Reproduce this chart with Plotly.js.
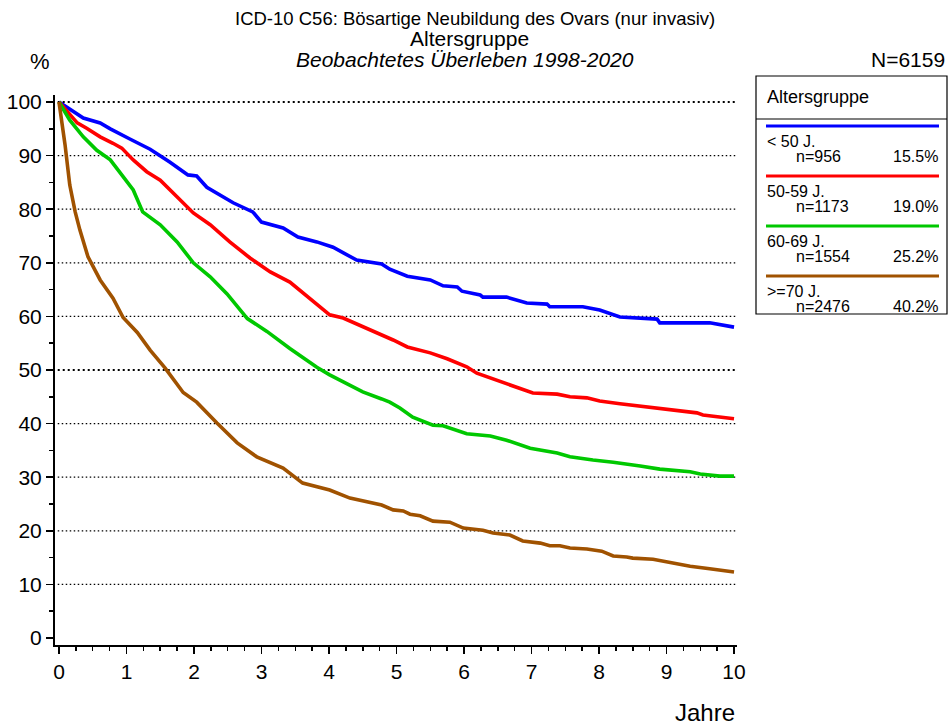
<!DOCTYPE html>
<html>
<head>
<meta charset="utf-8">
<script src="https://cdn.plot.ly/plotly-3.0.1.min.js"></script>
<style>html,body{margin:0;padding:0;background:#fff;}#chart{width:951px;height:726px;}</style>
</head>
<body>
<div id="chart"></div>
<script>
// ---- data ----
const groups = ["< 50 J.", "50-59 J.", "60-69 J.", ">=70 J."];
const groupN = ["n=956", "n=1173", "n=1554", "n=2476"];
const groupPct = ["15.5%", "19.0%", "25.2%", "40.2%"];
const colors = ["rgb(0,0,255)", "rgb(255,0,0)", "rgb(0,200,0)", "rgb(160,82,0)"];

const tBlue = [0, 0.36, 0.61, 0.76, 1.05, 1.35, 1.64, 1.91, 2.04, 2.19, 2.58, 2.87, 3.0, 3.32, 3.54, 3.82, 4.06, 4.41, 4.78, 4.9, 5.16, 5.5, 5.69, 5.9, 5.97, 6.24, 6.28, 6.63, 6.93, 7.23, 7.27, 7.76, 8.01, 8.31, 8.86, 8.9, 9.64, 10];
const sBlue = [100, 97.0, 96.1, 95.0, 93.1, 91.2, 88.8, 86.4, 86.2, 84.1, 81.2, 79.5, 77.6, 76.5, 74.8, 73.9, 72.9, 70.5, 69.8, 68.8, 67.5, 66.8, 65.7, 65.5, 64.7, 64.0, 63.6, 63.6, 62.5, 62.3, 61.8, 61.8, 61.2, 59.9, 59.5, 58.8, 58.8, 58.0];

const tRed = [0, 0.27, 0.41, 0.61, 0.8, 0.93, 1.1, 1.3, 1.5, 1.75, 1.99, 2.24, 2.53, 2.83, 3.13, 3.42, 3.72, 4.01, 4.21, 4.56, 4.78, 4.95, 5.16, 5.5, 5.75, 6.04, 6.19, 6.34, 6.58, 7.02, 7.38, 7.57, 7.82, 8.01, 8.31, 8.71, 8.86, 9.1, 9.45, 9.54, 9.84, 10];
const sRed = [100, 96.1, 95.1, 93.5, 92.3, 91.4, 89.2, 87.0, 85.4, 82.3, 79.3, 77.1, 73.9, 70.9, 68.3, 66.4, 63.4, 60.3, 59.7, 57.8, 56.7, 55.6, 54.3, 53.2, 52.1, 50.6, 49.4, 48.7, 47.6, 45.7, 45.5, 45.0, 44.8, 44.2, 43.7, 43.1, 42.9, 42.4, 42.0, 41.6, 41.2, 40.9];

const tGreen = [0, 0.16, 0.36, 0.56, 0.76, 0.9, 1.1, 1.24, 1.5, 1.75, 1.99, 2.24, 2.49, 2.79, 3.08, 3.42, 3.82, 4.01, 4.21, 4.5, 4.78, 4.9, 5.05, 5.24, 5.54, 5.69, 6.04, 6.39, 6.63, 6.98, 7.38, 7.57, 7.91, 8.21, 8.61, 8.9, 9.35, 9.5, 9.79, 10];
const sGreen = [100, 96.6, 93.5, 91.0, 89.2, 87.0, 83.6, 79.5, 77.1, 73.9, 70.0, 67.4, 64.2, 59.6, 57.2, 54.0, 50.5, 49.1, 47.8, 45.9, 44.6, 44.0, 42.9, 41.2, 39.7, 39.6, 38.1, 37.7, 36.9, 35.4, 34.5, 33.8, 33.2, 32.8, 32.1, 31.5, 31.0, 30.6, 30.2, 30.2];

const tBrown = [0, 0.05, 0.09, 0.16, 0.24, 0.31, 0.43, 0.61, 0.8, 0.95, 1.16, 1.35, 1.57, 1.84, 2.04, 2.34, 2.64, 2.93, 3.32, 3.61, 4.01, 4.31, 4.61, 4.78, 4.95, 5.1, 5.2, 5.35, 5.54, 5.79, 5.99, 6.28, 6.43, 6.68, 6.87, 7.13, 7.27, 7.42, 7.57, 7.82, 8.04, 8.21, 8.41, 8.5, 8.8, 9.0, 9.1, 9.35, 9.64, 10];
const sBrown = [100, 96, 92, 84.5, 79.5, 76.1, 71.1, 66.8, 63.4, 59.8, 57.0, 53.7, 50.4, 45.8, 44.0, 40.1, 36.4, 33.8, 31.7, 28.9, 27.6, 26.1, 25.2, 24.8, 23.9, 23.7, 23.1, 22.8, 21.8, 21.6, 20.5, 20.1, 19.6, 19.2, 18.1, 17.7, 17.2, 17.2, 16.8, 16.6, 16.2, 15.3, 15.1, 14.9, 14.7, 14.2, 14.0, 13.4, 12.9, 12.3];

const xTicks = [0, 1, 2, 3, 4, 5, 6, 7, 8, 9, 10];
const yTicks = [0, 10, 20, 30, 40, 50, 60, 70, 80, 90, 100];
const gridVals = [10, 20, 30, 40, 50, 60, 70, 80, 90, 100];
const boldGrid = [50, 100];

const titleLine1 = "ICD-10 C56: Bösartige Neubildung des Ovars (nur invasiv)";
const titleLine2 = "Altersgruppe";
const titleLine3 = "Beobachtetes Überleben 1998-2020";
const totalN = "N=6159";
const legendTitle = "Altersgruppe";

// ---- layout helpers (pixel -> paper) ----
const L = 55, T = 95, W = 682, H = 550;
const px = x => (x - L) / W;
const py = y => (T + H - y) / H;
const FONT = "Liberation Sans, Arial, sans-serif";

const series = [[tBlue, sBlue], [tRed, sRed], [tGreen, sGreen], [tBrown, sBrown]];
const traces = series.map((s, i) => ({
  x: s[0], y: s[1], type: 'scatter', mode: 'lines',
  line: {color: colors[i], width: 3.6},
  name: groups[i], showlegend: false, hoverinfo: 'skip'
}));

const shapes = [];
gridVals.forEach(v => {
  const bold = boldGrid.includes(v);
  shapes.push({type: 'line', xref: 'paper', yref: 'y', x0: 0.004, x1: 1, y0: v, y1: v,
    line: {color: 'black', width: bold ? 2.2 : 1.3, dash: bold ? '2px,3px' : '1.5px,2.5px'}, layer: 'below'});
});
// legend box
shapes.push({type: 'rect', xref: 'paper', yref: 'paper', x0: px(756), x1: px(947), y0: py(76), y1: py(314),
  line: {color: 'black', width: 1.2}, fillcolor: 'rgba(0,0,0,0)'});
shapes.push({type: 'line', xref: 'paper', yref: 'paper', x0: px(756), x1: px(947), y0: py(119), y1: py(119),
  line: {color: 'black', width: 1.2}});

const annotations = [];
function txt(text, x, y, size, xanchor, extra) {
  annotations.push(Object.assign({text: text, xref: 'paper', yref: 'paper', x: px(x), y: py(y),
    xanchor: xanchor, yanchor: 'middle', showarrow: false, font: {family: FONT, size: size, color: 'black'}}, extra || {}));
}
txt(titleLine1, 475, 18, 18.5, 'center');
txt(titleLine2, 469, 38, 21, 'center');
txt('<i>' + titleLine3 + '</i>', 465, 60, 21, 'center');
txt('%', 40, 62, 22, 'center');
txt(totalN, 947, 60, 21, 'right');
txt('Jahre', 737, 712, 24, 'right');
txt(legendTitle, 765, 97, 18, 'left');

groups.forEach((g, i) => {
  const ly = 126 + 50 * i;
  shapes.push({type: 'line', xref: 'paper', yref: 'paper', x0: px(766), x1: px(939), y0: py(ly), y1: py(ly),
    line: {color: colors[i], width: 3}});
  txt(g, 765, ly + 15, 16, 'left');
  txt(groupN[i], 794, ly + 30, 16, 'left');
  txt(groupPct[i], 940, ly + 30, 16, 'right');
});

const layout = {
  width: 951, height: 726,
  margin: {l: L, r: 951 - L - W, t: T, b: 726 - T - H, pad: 0},
  paper_bgcolor: 'white', plot_bgcolor: 'white',
  showlegend: false,
  font: {family: FONT, color: 'black'},
  xaxis: {
    range: [-0.059, 10.044], tickmode: 'array', tickvals: xTicks, ticktext: xTicks.map(String),
    showgrid: false, zeroline: false, showline: true, linecolor: 'black', linewidth: 2,
    ticks: 'outside', ticklen: 7, tickwidth: 1.5, tickcolor: 'black',
    tickfont: {family: FONT, size: 21, color: 'black'},
    minor: {dtick: 0.25, tick0: 0, ticks: 'outside', ticklen: 4, tickwidth: 1.5, tickcolor: 'black', showgrid: false},
    fixedrange: true
  },
  yaxis: {
    range: [-1.31, 101.31], tickmode: 'array', tickvals: yTicks, ticktext: yTicks.map(String),
    showgrid: false, zeroline: false, showline: true, linecolor: 'black', linewidth: 2,
    ticks: 'outside', ticklen: 7, tickwidth: 1.5, tickcolor: 'black',
    tickfont: {family: FONT, size: 21, color: 'black'},
    minor: {dtick: 5, tick0: 0, ticks: 'outside', ticklen: 4, tickwidth: 1.5, tickcolor: 'black', showgrid: false},
    fixedrange: true
  },
  shapes: shapes,
  annotations: annotations
};

Plotly.newPlot('chart', traces, layout, {displayModeBar: false, staticPlot: true});
</script>
</body>
</html>
